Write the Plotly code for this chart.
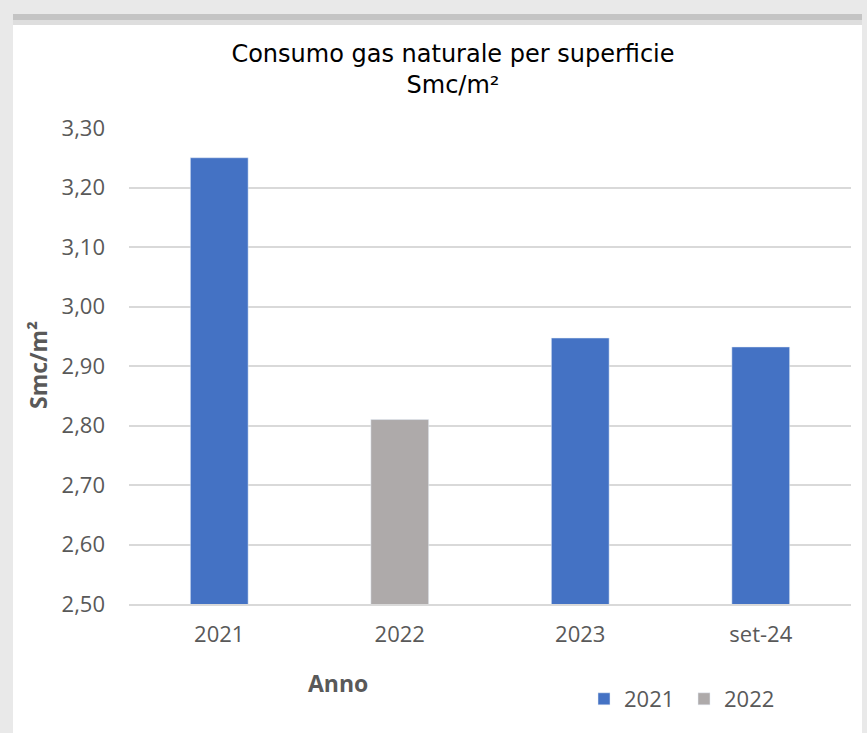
import plotly.graph_objects as go

# chart data
anni = ["2021", "2022", "2023", "set-24"]
serie_2021 = [3.25, None, 2.947, 2.932]
serie_2022 = [None, 2.81, None, None]
tick_vals = [2.50, 2.60, 2.70, 2.80, 2.90, 3.00, 3.10, 3.20, 3.30]
tick_text = ["2,50", "2,60", "2,70", "2,80", "2,90", "3,00", "3,10", "3,20", "3,30"]

W, H = 867, 733
L, R, T, B = 129, 16, 128, 129
pw = W - L - R
ph = H - T - B


def px(x):
    return (x - L) / pw


def py(y):
    return (H - B - y) / ph


fig = go.Figure()
fig.add_trace(go.Bar(x=anni, y=serie_2021, name="2021", marker_color="#4472C4"))
fig.add_trace(go.Bar(x=anni, y=serie_2022, name="2022", marker_color="#AEAAAA"))

# card background with the grey shadow round it
fig.add_shape(type="rect", xref="paper", yref="paper", layer="below",
              x0=px(13), x1=px(862), y0=py(733), y1=py(14),
              fillcolor="#c4c4c4", line_width=0)
fig.add_shape(type="rect", xref="paper", yref="paper", layer="below",
              x0=px(13), x1=px(862), y0=py(733), y1=py(20),
              fillcolor="#dedede", line_width=0)
fig.add_shape(type="rect", xref="paper", yref="paper", layer="below",
              x0=px(13), x1=px(862), y0=py(733), y1=py(25),
              fillcolor="white", line_width=0)

fig.add_annotation(text="<b>Smc/m²</b>", xref="paper", yref="paper",
                   x=px(38), y=py(365), xanchor="center", yanchor="middle",
                   textangle=-90, showarrow=False,
                   font=dict(family="Open Sans", size=23, color="#595959"))
fig.add_annotation(text="<b>Anno</b>", xref="paper", yref="paper",
                   x=px(338), y=py(683), xanchor="center", yanchor="middle",
                   showarrow=False,
                   font=dict(family="Open Sans", size=23, color="#595959"))

fig.update_layout(
    width=W, height=H,
    margin=dict(l=L, r=R, t=T, b=B),
    paper_bgcolor="#e9e9e9",
    plot_bgcolor="rgba(0,0,0,0)",
    barmode="overlay",
    bargap=0.68,
    title=dict(text="Consumo gas naturale per superficie<br>Smc/m²",
               xref="container", yref="container",
               x=453 / W, xanchor="center", y=1 - 62 / H, yanchor="top",
               font=dict(family="DejaVu Sans", size=24, color="black")),
    font=dict(family="Open Sans", size=22, color="#595959"),
    xaxis=dict(type="category", showgrid=False, showline=True,
               linecolor="#d9d9d9", linewidth=1.5, ticks="",
               ticklabelstandoff=10,
               tickfont=dict(size=22, color="#595959")),
    yaxis=dict(range=[2.5, 3.3], tickvals=tick_vals, ticktext=tick_text,
               showgrid=True, gridcolor="#d9d9d9", gridwidth=1.5,
               zeroline=False, showline=False, ticks="",
               ticklabelstandoff=23,
               tickfont=dict(size=22, color="#595959")),
    legend=dict(orientation="h", xref="container", yref="container",
                x=584 / W, xanchor="left", y=(H - 699) / H, yanchor="middle",
                entrywidth=55, entrywidthmode="pixels",
                font=dict(size=22, color="#595959"), bgcolor="rgba(0,0,0,0)"),
    showlegend=True,
)

# page body margin would push the figure off by 8px
fig.write_html("out.html", config={"displayModeBar": False},
               post_script="document.body.style.margin='0';")
